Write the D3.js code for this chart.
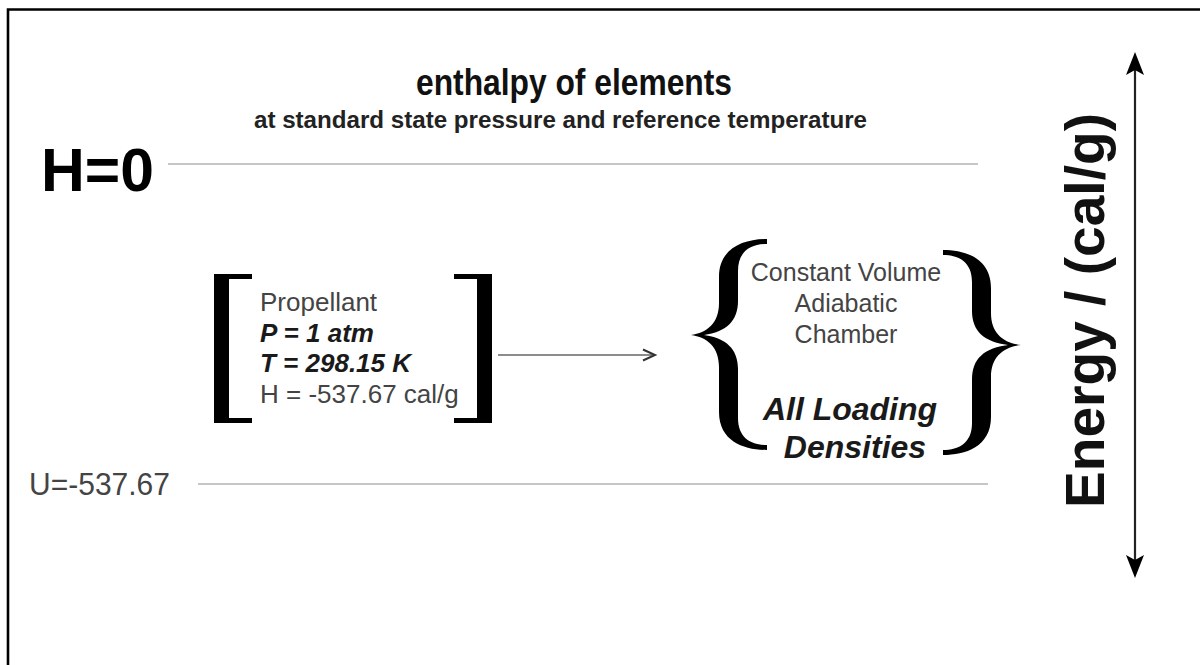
<!DOCTYPE html>
<html>
<head>
<meta charset="utf-8">
<script src="https://cdn.jsdelivr.net/npm/d3@7/dist/d3.min.js"></script>
<style>
  html, body { margin: 0; padding: 0; background: #fff; }
  svg { display: block; }
  text { font-family: "Liberation Sans", Arial, Helvetica, sans-serif; }
</style>
</head>
<body>
<script>
// ---- data ----
const levelLabels = ["H=0", "U=-537.67"];
const levelValues = [0, -537.67];
const titleLines = ["enthalpy of elements", "at standard state pressure and reference temperature"];
const stateLines = ["Propellant", "P = 1 atm", "T = 298.15 K", "H = -537.67 cal/g"];
const stateBold = [false, true, true, false];
const chamberLines = ["Constant Volume", "Adiabatic", "Chamber"];
const densityLines = ["All Loading", "Densities"];
const axisLabel = "Energy / (cal/g)";

// ---- drawing ----
const W = 1200, H = 665;
const svg = d3.select("body").append("svg").attr("width", W).attr("height", H);
svg.append("rect").attr("width", W).attr("height", H).attr("fill", "#fff");

// frame (top + left edges)
svg.append("path").attr("d", "M8,665 L8,9.5 L1200,9.5")
  .attr("fill", "none").attr("stroke", "#000").attr("stroke-width", 2.6);

const y = d3.scaleLinear().domain([0, -537.67]).range([164, 484]);

// title
svg.append("text").attr("x", 416).attr("y", 95)
  .attr("textLength", 316).attr("lengthAdjust", "spacingAndGlyphs")
  .attr("font-size", 36).attr("font-weight", "bold").attr("fill", "#111")
  .text(titleLines[0]);
svg.append("text").attr("x", 254).attr("y", 128)
  .attr("textLength", 613).attr("lengthAdjust", "spacingAndGlyphs")
  .attr("font-size", 23).attr("font-weight", "bold").attr("fill", "#222")
  .text(titleLines[1]);

// energy levels
const lvl = [
  {label: levelLabels[0], v: levelValues[0], x1: 168, x2: 978},
  {label: levelLabels[1], v: levelValues[1], x1: 198, x2: 988}
];
svg.selectAll("line.level").data(lvl).join("line").attr("class", "level")
  .attr("x1", d => d.x1).attr("x2", d => d.x2)
  .attr("y1", d => y(d.v)).attr("y2", d => y(d.v))
  .attr("stroke", "#c6c6c6").attr("stroke-width", 2);

svg.append("text").attr("x", 41).attr("y", y(levelValues[0]) + 27)
  .attr("textLength", 113).attr("lengthAdjust", "spacingAndGlyphs")
  .attr("font-size", 62).attr("font-weight", "bold").attr("fill", "#000")
  .text(levelLabels[0]);
svg.append("text").attr("x", 29).attr("y", y(levelValues[1]) + 11)
  .attr("textLength", 141).attr("lengthAdjust", "spacingAndGlyphs")
  .attr("font-size", 31).attr("fill", "#444")
  .text(levelLabels[1]);

// square brackets
function bracket(xOuter, dir) {
  const top = 274, bot = 423, thick = 15, serif = 38, st = 5;
  const g = svg.append("g").attr("fill", "#000");
  const xv = dir > 0 ? xOuter : xOuter - thick;
  g.append("rect").attr("x", xv).attr("y", top).attr("width", thick).attr("height", bot - top);
  const xs = dir > 0 ? xOuter : xOuter - serif;
  g.append("rect").attr("x", xs).attr("y", top).attr("width", serif).attr("height", st);
  g.append("rect").attr("x", xs).attr("y", bot - st).attr("width", serif).attr("height", st);
}
bracket(214, 1);
bracket(492, -1);

// propellant state text
svg.selectAll("text.state").data(stateLines).join("text").attr("class", "state")
  .attr("x", 260).attr("y", (d, i) => 311 + i * 30.7)
  .attr("font-size", 26)
  .attr("font-weight", (d, i) => stateBold[i] ? "bold" : "normal")
  .attr("font-style", (d, i) => stateBold[i] ? "italic" : "normal")
  .attr("fill", (d, i) => stateBold[i] ? "#1a1a1a" : "#444")
  .text(d => d);

// process arrow
svg.append("line").attr("x1", 498).attr("x2", 654).attr("y1", 355).attr("y2", 355)
  .attr("stroke", "#666").attr("stroke-width", 1.5);
svg.append("path").attr("d", "M643,349.5 L655,355 L643,360.5")
  .attr("fill", "none").attr("stroke", "#333").attr("stroke-width", 2);

// curly braces
function brace(xEnd, xTip, yt, ym, yb) {
  const s = xTip < xEnd ? -1 : 1;
  const L = Math.abs(xTip - xEnd);
  const X = u => xEnd + s * u;
  const o = 48, i = 29;
  const p = d3.path();
  p.moveTo(X(0), yt);
  p.bezierCurveTo(X(22), yt, X(o), yt + 8, X(o), yt + 38);
  p.lineTo(X(o), ym - 32);
  p.bezierCurveTo(X(o), ym - 12, X(o + 12), ym - 2, X(L), ym);
  p.bezierCurveTo(X(o + 12), ym + 2, X(o), ym + 12, X(o), ym + 32);
  p.lineTo(X(o), yb - 38);
  p.bezierCurveTo(X(o), yb - 8, X(22), yb, X(0), yb);
  p.lineTo(X(0), yb - 5);
  p.bezierCurveTo(X(16), yb - 5, X(i), yb - 12, X(i), yb - 32);
  p.lineTo(X(i), ym + 34);
  p.bezierCurveTo(X(i), ym + 14, X(i + 12), ym + 3, X(L - 13), ym);
  p.bezierCurveTo(X(i + 12), ym - 3, X(i), ym - 14, X(i), ym - 34);
  p.lineTo(X(i), yt + 32);
  p.bezierCurveTo(X(i), yt + 12, X(16), yt + 5, X(0), yt + 5);
  p.closePath();
  svg.append("path").attr("d", p.toString()).attr("fill", "#000");
}
brace(767, 691, 239, 335, 450);
brace(943, 1021, 250, 345, 455);

// chamber text
svg.selectAll("text.chamber").data(chamberLines).join("text").attr("class", "chamber")
  .attr("x", 846).attr("y", (d, i) => 281 + i * 31)
  .attr("text-anchor", "middle").attr("font-size", 25).attr("fill", "#444")
  .text(d => d);
svg.selectAll("text.dens").data(densityLines).join("text").attr("class", "dens")
  .attr("x", (d, i) => i === 0 ? 850 : 855).attr("y", (d, i) => 420 + i * 38)
  .attr("text-anchor", "middle").attr("font-size", 32)
  .attr("font-weight", "bold").attr("font-style", "italic").attr("fill", "#1a1a1a")
  .text(d => d);

// energy axis (double arrow)
svg.append("line").attr("x1", 1135).attr("x2", 1135).attr("y1", 66).attr("y2", 564)
  .attr("stroke", "#222").attr("stroke-width", 2.2);
svg.append("path").attr("d", "M1135,52 L1144,75 L1135,70 L1126,75 Z").attr("fill", "#000");
svg.append("path").attr("d", "M1135,578 L1144,555 L1135,560 L1126,555 Z").attr("fill", "#000");

svg.append("text")
  .attr("transform", "translate(1104,508) rotate(-90)")
  .attr("x", 0).attr("y", 0)
  .attr("textLength", 395).attr("lengthAdjust", "spacingAndGlyphs")
  .attr("font-size", 56).attr("font-weight", "bold").attr("fill", "#111")
  .text(axisLabel);
</script>
</body>
</html>
